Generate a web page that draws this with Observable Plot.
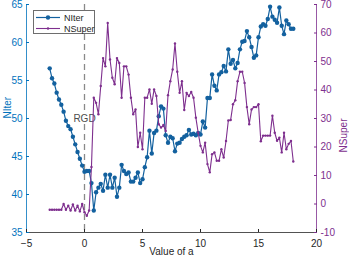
<!DOCTYPE html>
<html>
<head>
<meta charset="utf-8">
<script src="https://cdn.jsdelivr.net/npm/d3@7"></script>
<script src="https://cdn.jsdelivr.net/npm/@observablehq/plot@0.6"></script>
<style>
  html, body { margin: 0; padding: 0; background: #fff; }
  #wrap { position: relative; width: 349px; height: 259px; font-family: "Liberation Sans", Arial, Helvetica, sans-serif; }
  #legend { position: absolute; left: 33px; top: 10px; width: 62px; height: 24px; border: 1px solid #6e6e6e; background: #fff; box-sizing: border-box; }
  .row { position: absolute; left: 0; height: 11px; display: flex; align-items: center; }
  .row span { font-size: 9px; color: #262626; margin-left: 3px; }
</style>
</head>
<body>
<div id="wrap"></div>
<script>
// ---- data ----
const aValues = [-3,-2.8,-2.6,-2.4,-2.2,-2,-1.8,-1.6,-1.4,-1.2,
  -1,-0.8,-0.6,-0.4,-0.2,0,0.2,0.4,0.6,0.8,
  1,1.2,1.4,1.6,1.8,2,2.2,2.4,2.6,2.8,
  3,3.2,3.4,3.6,3.8,4,4.2,4.4,4.6,4.8,
  5,5.2,5.4,5.6,5.8,6,6.2,6.4,6.6,6.8,
  7,7.2,7.4,7.6,7.8,8,8.2,8.4,8.6,8.8,
  9,9.2,9.4,9.6,9.8,10,10.2,10.4,10.6,10.8,
  11,11.2,11.4,11.6,11.8,12,12.2,12.4,12.6,12.8,
  13,13.2,13.4,13.6,13.8,14,14.2,14.4,14.6,14.8,
  15,15.2,15.4,15.6,15.8,16,16.2,16.4,16.6,16.8,
  17,17.2,17.4,17.6,17.8,18];
const nIter = [56.6,55.3,54.6,53.4,52.5,51.8,50.9,49.7,49.0,48.6,
  47.6,46.6,45.6,44.7,43.8,43.0,43.1,43.1,41.5,37.9,
  40.3,40.9,41.4,40.5,42.6,40.9,42.6,40.9,42.2,39.7,
  40.9,43.9,43.1,42.7,42.9,41.7,41.7,42.2,42.9,41.5,
  42.0,43.6,44.9,48.4,45.4,48.1,48.4,50.3,51.6,51.3,
  47.8,46.8,47.6,47.4,45.7,46.7,46.8,47.3,47.6,47.8,
  48.5,47.9,48.0,47.8,48.1,47.9,49.6,48.8,52.7,52.7,
  55.8,54.3,53.7,55.8,56.1,56.9,56.2,59.1,57.2,57.7,
  56.6,57.3,59.1,60.1,60.2,61.5,60.7,59.4,58.0,58.3,
  60.7,62.1,62.4,62.2,63.1,64.7,63.4,63.0,62.6,64.6,
  62.2,61.1,62.9,62.4,61.8,61.8];
const nSuper = [-2,-2,-2,-2,-2,-2,0,-2,-0.6,-2.3,
  -0.2,-2.3,-0.6,-2.6,0,-2.9,-4.1,-2.3,13,37.3,
  35.5,31.5,41.4,51.2,48.3,63.5,50.7,44.3,42.0,51.2,
  49.5,37.3,48.3,48.3,45.4,37.3,31.5,33.2,20.0,25.0,
  19.2,37.3,37.3,40.2,35.2,40.2,37.9,28.0,26.8,27.7,
  25.6,38.2,43.1,47.2,56.3,46.4,39.0,43.1,33.0,39.0,
  37.9,39.3,37.3,30.3,25.0,20.4,18.1,21.5,14.0,11.1,
  17.5,18.1,15.2,15.2,19.2,16.3,22.1,29.3,29.5,35.0,
  36.4,43.1,46.4,46.4,42.5,34.0,28.0,33.2,34.0,34.0,
  35.0,22.0,24.0,24.0,24.0,24.0,31.0,25.0,22.2,23.3,
  18.1,25.0,19.2,21.1,22.1,14.9];
const xTicks = [-5,0,5,10,15,20];
const iterTicks = [35,40,45,50,55,60,65];
const superTicks = [-10,0,10,20,30,40,50,60,70];
const xDomain = [-5,20];
const iterDomain = [35,65];
const superDomain = [-10,70];
const rgdX = [0];
const seriesNames = ["NIter","NSuper"];

// ---- styling ----
const blueAxis = "#0072BD";
const blue = "#13619f";
const purple = "#7E2F8E";
const ink = "#262626";

const toLeft = v => iterDomain[0] + (v - superDomain[0]) * (iterDomain[1]-iterDomain[0]) / (superDomain[1]-superDomain[0]);
const fromLeft = y => superDomain[0] + (y - iterDomain[0]) * (superDomain[1]-superDomain[0]) / (iterDomain[1]-iterDomain[0]);

const rows = aValues.map((a, i) => ({a, nIter: nIter[i], nSuperL: toLeft(nSuper[i])}));

const chart = Plot.plot({
  width: 349, height: 259,
  marginLeft: 26, marginRight: 33, marginTop: 4, marginBottom: 27,
  style: {fontFamily: '"Liberation Sans", Arial, Helvetica, sans-serif', fontSize: "10px", background: "#fff", overflow: "visible"},
  x: {domain: xDomain},
  y: {domain: iterDomain},
  marks: [
    Plot.ruleX(rgdX, {stroke: "#8a8a8a", strokeWidth: 1.3, strokeDasharray: "6,4"}),
    Plot.text(rgdX, {x: d => d, frameAnchor: "middle", text: () => "RGD", fill: "#4d4d4d", stroke: "#fff", strokeWidth: 3, fontSize: 10}),
    Plot.line(rows, {x: "a", y: "nIter", stroke: blue, strokeWidth: 1.2}),
    Plot.dot(rows, {x: "a", y: "nIter", r: 2.2, fill: blue, stroke: null}),
    Plot.line(rows, {x: "a", y: "nSuperL", stroke: purple, strokeWidth: 1.1}),
    Plot.dot(rows, {x: "a", y: "nSuperL", r: 1.2, fill: purple, stroke: null}),
    Plot.ruleX([xDomain[0]], {stroke: blueAxis, strokeWidth: 0.8}),
    Plot.ruleX([xDomain[1]], {stroke: purple, strokeWidth: 0.8}),
    Plot.ruleY([iterDomain[0]], {stroke: ink, strokeWidth: 0.8}),
    Plot.axisX({ticks: xTicks, tickSize: -3, tickPadding: 10, color: ink, label: null}),
    Plot.axisY({ticks: iterTicks, anchor: "left", tickSize: -3, tickPadding: 7, color: blueAxis, label: null}),
    Plot.axisY(superTicks.map(toLeft), {anchor: "right", tickSize: -3, tickPadding: 7, color: purple, label: null,
      tickFormat: d => String(Math.round(fromLeft(d)))}),
    Plot.text(["NIter"], {frameAnchor: "left", dx: -19, rotate: -90, fill: blueAxis, fontSize: 10}),
    Plot.text(["NSuper"], {frameAnchor: "right", dx: 27, rotate: -90, fill: purple, fontSize: 10}),
    Plot.text(["Value of a"], {frameAnchor: "bottom", dy: 22, fill: ink, fontSize: 10})
  ]
});

const wrap = document.getElementById("wrap");
wrap.appendChild(chart);

// ---- legend (inside the axes, top-left) ----
const legend = document.createElement("div");
legend.id = "legend";
const swatch = (color, r, sw) =>
  `<svg width="27" height="11"><line x1="2" x2="26" y1="5.5" y2="5.5" stroke="${color}" stroke-width="${sw}"/><circle cx="14" cy="5.5" r="${r}" fill="${color}"/></svg>`;
legend.innerHTML =
  `<div class="row" style="top:1px">${swatch(blue, 2.2, 1.2)}<span>${seriesNames[0]}</span></div>` +
  `<div class="row" style="top:12px">${swatch(purple, 1.2, 1.1)}<span>${seriesNames[1]}</span></div>`;
wrap.appendChild(legend);
</script>
</body>
</html>
